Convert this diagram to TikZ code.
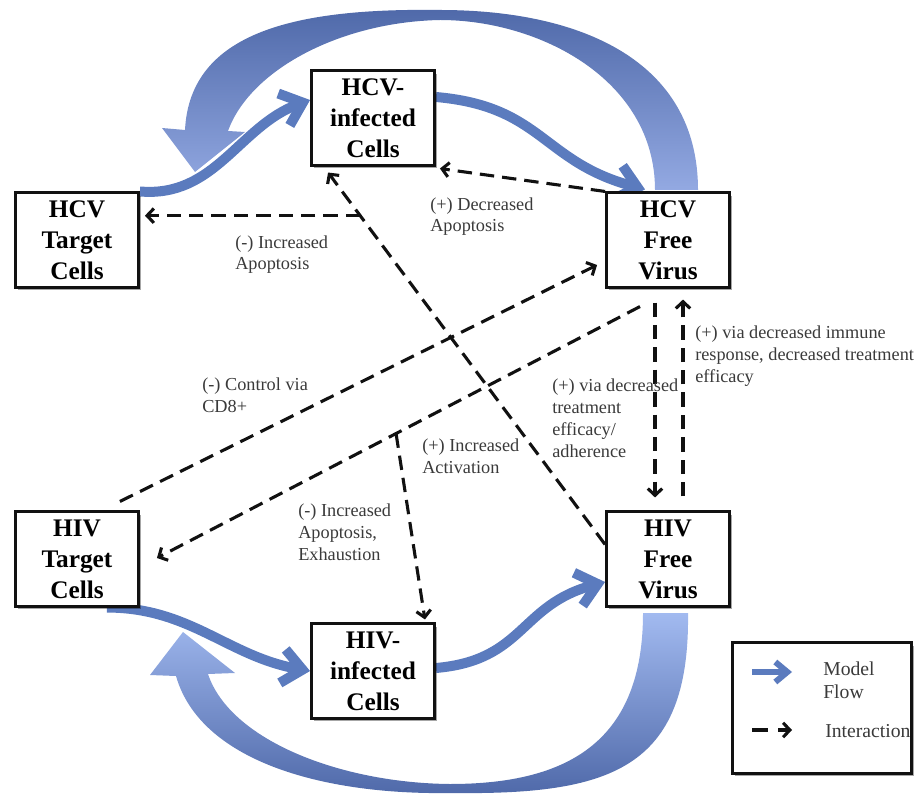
\documentclass[tikz,border=0pt]{standalone}
\usepackage{fontspec}
\setmainfont{Liberation Serif}
\usetikzlibrary{arrows.meta,calc,shadows,backgrounds}
\definecolor{ink}{HTML}{111111}
\definecolor{muted}{HTML}{3A3A3A}
\definecolor{flow}{HTML}{5B7BBE}
\definecolor{arcdark}{HTML}{4F69A9}
\definecolor{arcmid}{HTML}{93A9E2}
\definecolor{arclight}{HTML}{A2BAF0}
\tikzset{
  box/.style={draw=ink,line width=1.9pt,fill=white,minimum width=30.8mm,minimum height=23.6mm,inner sep=0pt,align=center,font=\bfseries\fontsize{18}{22}\selectfont,drop shadow={shadow xshift=.7mm,shadow yshift=-.7mm,fill=black,opacity=.35}},
  lbl/.style={align=left,anchor=base west,inner sep=0pt,font=\fontsize{13}{15.6}\selectfont,text=muted},
  fl/.style={draw=flow,line width=2.5mm,-{Straight Barb[length=5mm,width=8.5mm]}},
  flsmall/.style={draw=flow,line width=1.5mm,-{Straight Barb[length=3mm,width=5mm]}},
  ia/.style={draw=ink,line width=2.2pt,dash pattern=on 3.6mm off 2mm,-{Straight Barb[length=1.7mm,width=3.6mm]}},
}
\begin{document}
\begin{tikzpicture}[x=0.25mm,y=-0.25mm]
\useasboundingbox (0,0) rectangle (914,795);
\node[box] (hcvt) at (77,240) {HCV\\Target\\Cells};
\node[box] (hcvi) at (373,118) {HCV-\\infected\\Cells};
\node[box] (hcvv) at (668,240) {HCV\\Free\\Virus};
\node[box] (hivt) at (77,559) {HIV\\Target\\Cells};
\node[box] (hivi) at (373,671) {HIV-\\infected\\Cells};
\node[box] (hivv) at (668,559) {HIV\\Free\\Virus};
\begin{scope}[on background layer]
\shade[top color=arcdark,bottom color=arcmid] (698,190) .. controls (698,60) and (580,10) .. (440,10) .. controls (300,8) and (190,30) .. (185,130) -- (162,128) -- (195,172) -- (245,132) -- (228,131) .. controls (250,70) and (340,22) .. (440,20) .. controls (540,20) and (655,80) .. (655,190) -- cycle;
\shade[top color=arclight,bottom color=arcdark] (688,613) .. controls (690,770) and (610,795) .. (450,793) .. controls (320,795) and (200,760) .. (176,676) -- (150,675) -- (183,632) -- (235,673) -- (208,674) .. controls (230,740) and (340,783) .. (450,784) .. controls (570,784) and (643,740) .. (643,613) -- cycle;
\draw[fl] (hcvt.north east) to[out=-5,in=200] ($(hcvi.west)+(0,-18)$);
\draw[fl] ($(hcvi.east)+(0,-21)$) to[out=-5,in=165,looseness=1.2] ($(hcvv.north west)+(40,-2)$);
\draw[fl] ($(hivt.south)+(30,0)$) to[out=0,in=170] (hivi.west);
\draw[fl] ($(hivi.east)+(0,-3)$) to[out=5,in=195,looseness=1.2] ($(hivv.west)+(0,23)$);
\end{scope}
\coordinate (hcvitip) at ($(hcvi.south west)+(18,6)$);
\coordinate (br1) at ($(hivv.167)!0.884!(hcvitip)$);
\coordinate (hcvvout) at ($(hcvv.south)+(-28,18)$);
\coordinate (hivttip) at ($(hivt.east)+(17,-1)$);
\coordinate (br2) at ($(hcvvout)!0.505!(hivttip)$);
\draw[ia] (hcvv.north west) -- ($(hcvi.south east)+(4,2)$);
\draw[ia] (hivv.167) -- (hcvitip);
\draw[ia] (br1) -- ($(hcvt.east |- br1)+(5,0)$);
\draw[ia] ($(hivt.north east)+(-20,-9)$) -- ($(hcvv.west)+(-8,25)$);
\draw[ia] (hcvvout) -- (hivttip);
\draw[ia] (br2) -- ($(hivi.north east)+(-11,-3)$);
\draw[ia] ($(hcvv.south)+(-13,14)$) -- ($(hivv.north)+(-13,-13)$);
\draw[ia] ($(hivv.north)+(15,-14)$) -- ($(hcvv.south)+(15,11)$);
\node[lbl] (ldec) at (430,232) {(+) Decreased\\Apoptosis};
\node[lbl] (linc) at (235,270) {(-) Increased\\Apoptosis};
\node[lbl] (lcd8) at (202,412) {(-) Control via\\CD8+};
\node[lbl] (lact) at (422,473) {(+) Increased\\Activation};
\node[lbl] (lexh) at (298,560) {(-) Increased\\Apoptosis,\\Exhaustion};
\node[lbl] (ltre) at (552,457) {(+) via decreased\\treatment\\efficacy/\\adherence};
\node[lbl] (limm) at (695,382) {(+) via decreased immune\\response, decreased treatment\\efficacy};
\node[draw=ink,line width=1.9pt,fill=white,minimum width=44.8mm,minimum height=32.6mm,drop shadow={shadow xshift=.7mm,shadow yshift=-.7mm,fill=black,opacity=.35}] (legend) at (822,708) {};
\draw[flsmall] ($(legend.center)+(-70,-36)$) -- ($(legend.center)+(-30,-36)$);
\draw[ink,line width=2.2pt] ($(legend.center)+(-70,22)$) -- ($(legend.center)+(-54,22)$);
\draw[ia] ($(legend.center)+(-44,22)$) -- ($(legend.center)+(-30,22)$);
\node[lbl,font=\fontsize{14}{16}\selectfont] (lmod) at ($(legend.center)+(1,-10)$) {Model\\Flow};
\node[lbl,font=\fontsize{14}{16}\selectfont] (lint) at ($(legend.center)+(3,29)$) {Interaction};
\end{tikzpicture}
\end{document}
